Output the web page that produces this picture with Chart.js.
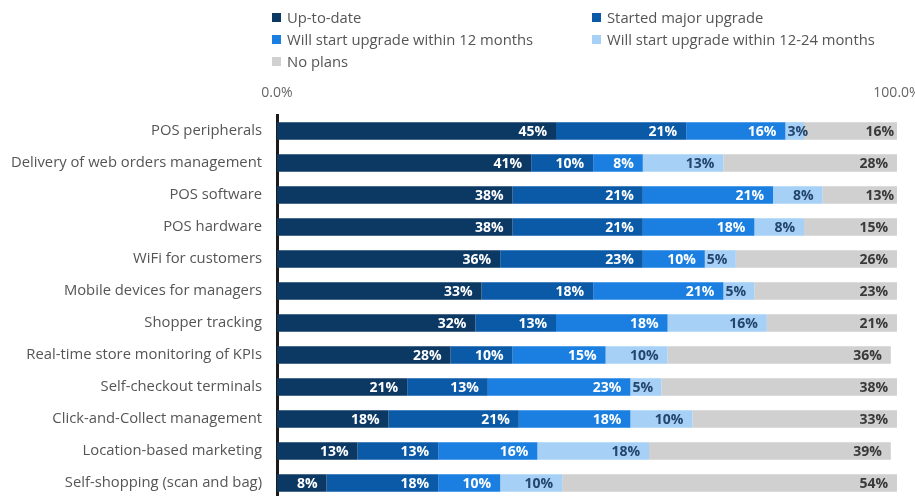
<!DOCTYPE html>
<html>
<head>
<meta charset="utf-8">
<script src="https://cdn.jsdelivr.net/npm/chart.js@4.4.1/dist/chart.umd.min.js"></script>
<style>
  html, body { margin: 0; padding: 0; background: #fff; overflow: hidden; }
  #wrap { position: absolute; left: 0; top: 0; width: 915px; height: 499px; }
  #legend {
    position: absolute; left: 272px; top: 6px;
    display: grid; grid-template-columns: 320px 300px; row-gap: 0;
    font: 14.8px "Open Sans", sans-serif; color: #555;
  }
  #legend .item { display: flex; align-items: center; height: 22px; white-space: nowrap; }
  #legend .sw { width: 9px; height: 9px; margin-right: 6px; flex: none; }
</style>
</head>
<body>
<div id="wrap"><canvas id="chart"></canvas></div>
<div id="legend"></div>
<script>
const categories = [
  'POS peripherals',
  'Delivery of web orders management',
  'POS software',
  'POS hardware',
  'WiFi for customers',
  'Mobile devices for managers',
  'Shopper tracking',
  'Real-time store monitoring of KPIs',
  'Self-checkout terminals',
  'Click-and-Collect management',
  'Location-based marketing',
  'Self-shopping (scan and bag)'
];
const seriesNames = [
  'Up-to-date',
  'Started major upgrade',
  'Will start upgrade within 12 months',
  'Will start upgrade within 12-24 months',
  'No plans'
];
const upToDate     = [45, 41, 38, 38, 36, 33, 32, 28, 21, 18, 13, 8];
const startedMajor = [21, 10, 21, 21, 23, 18, 13, 10, 13, 21, 13, 18];
const within12     = [16, 8, 21, 18, 10, 21, 18, 15, 23, 18, 16, 10];
const within12to24 = [3, 13, 8, 8, 5, 5, 16, 10, 5, 10, 18, 10];
const noPlans      = [16, 28, 13, 15, 26, 23, 21, 36, 38, 33, 39, 54];
const axisTicks    = [0, 100];

const colors = ['#0c3864', '#0a5aa8', '#1a7fe0', '#a6d0f5', '#d0d0d0'];
const labelColors = ['#ffffff', '#ffffff', '#ffffff', '#24466e', '#3a3a3a'];
const values = [upToDate, startedMajor, within12, within12to24, noPlans];

const datasets = values.map((v, i) => ({
  label: seriesNames[i],
  data: v,
  backgroundColor: colors[i],
  borderWidth: 0,
  categoryPercentage: 1,
  barPercentage: 0.55
}));

// Percent labels at the right end of each segment
const segmentLabels = {
  id: 'segmentLabels',
  afterDatasetsDraw(chart) {
    const ctx = chart.ctx;
    ctx.save();
    ctx.font = 'bold 14px "Open Sans", sans-serif';
    ctx.textBaseline = 'middle';
    ctx.textAlign = 'left';
    chart.data.datasets.forEach((ds, di) => {
      const meta = chart.getDatasetMeta(di);
      meta.data.forEach((el, i) => {
        const txt = ds.data[i] + '%';
        const w = ctx.measureText(txt).width;
        let x = el.x - 9 - w;
        const start = Math.min(el.base, el.x);
        if (x < start + 2) x = start + 2;
        ctx.fillStyle = labelColors[di];
        ctx.fillText(txt, x, el.y + 1);
      });
    });
    ctx.restore();
  }
};

const chart = new Chart(document.getElementById('chart'), {
  type: 'bar',
  data: { labels: categories, datasets },
  options: {
    indexAxis: 'y',
    responsive: true,
    maintainAspectRatio: false,
    animation: false,
    layout: { padding: { left: 0, right: 18, top: 0, bottom: 0 } },
    plugins: {
      legend: { display: false },
      tooltip: { enabled: false }
    },
    scales: {
      x: {
        position: 'top',
        stacked: true,
        min: 0,
        max: 100,
        afterBuildTicks(scale) { scale.ticks = axisTicks.map(v => ({ value: v })); },
        afterFit(scale) { scale.height = 115; scale.paddingRight = 0; },
        grid: { display: false, drawTicks: false },
        border: { display: false },
        ticks: {
          padding: 14,
          color: '#666',
          font: { family: '"Open Sans", sans-serif', size: 14 },
          callback: v => v.toFixed(1) + '%'
        }
      },
      y: {
        stacked: true,
        afterFit(scale) {
          scale.width = 277;
          scale.paddingTop = 0;
          scale.paddingBottom = 0;
        },
        grid: { display: false, drawTicks: false },
        border: { display: true, color: '#1b1b1b', width: 3 },
        ticks: {
          padding: 15,
          color: '#555',
          font: { family: '"Open Sans", sans-serif', size: 14.8 }
        }
      }
    }
  },
  plugins: [segmentLabels]
});

// Two-column legend built from the chart's datasets
const legend = document.getElementById('legend');
chart.data.datasets.forEach(ds => {
  const item = document.createElement('div');
  item.className = 'item';
  const sw = document.createElement('span');
  sw.className = 'sw';
  sw.style.background = ds.backgroundColor;
  item.appendChild(sw);
  item.appendChild(document.createTextNode(ds.label));
  legend.appendChild(item);
});
</script>
</body>
</html>
